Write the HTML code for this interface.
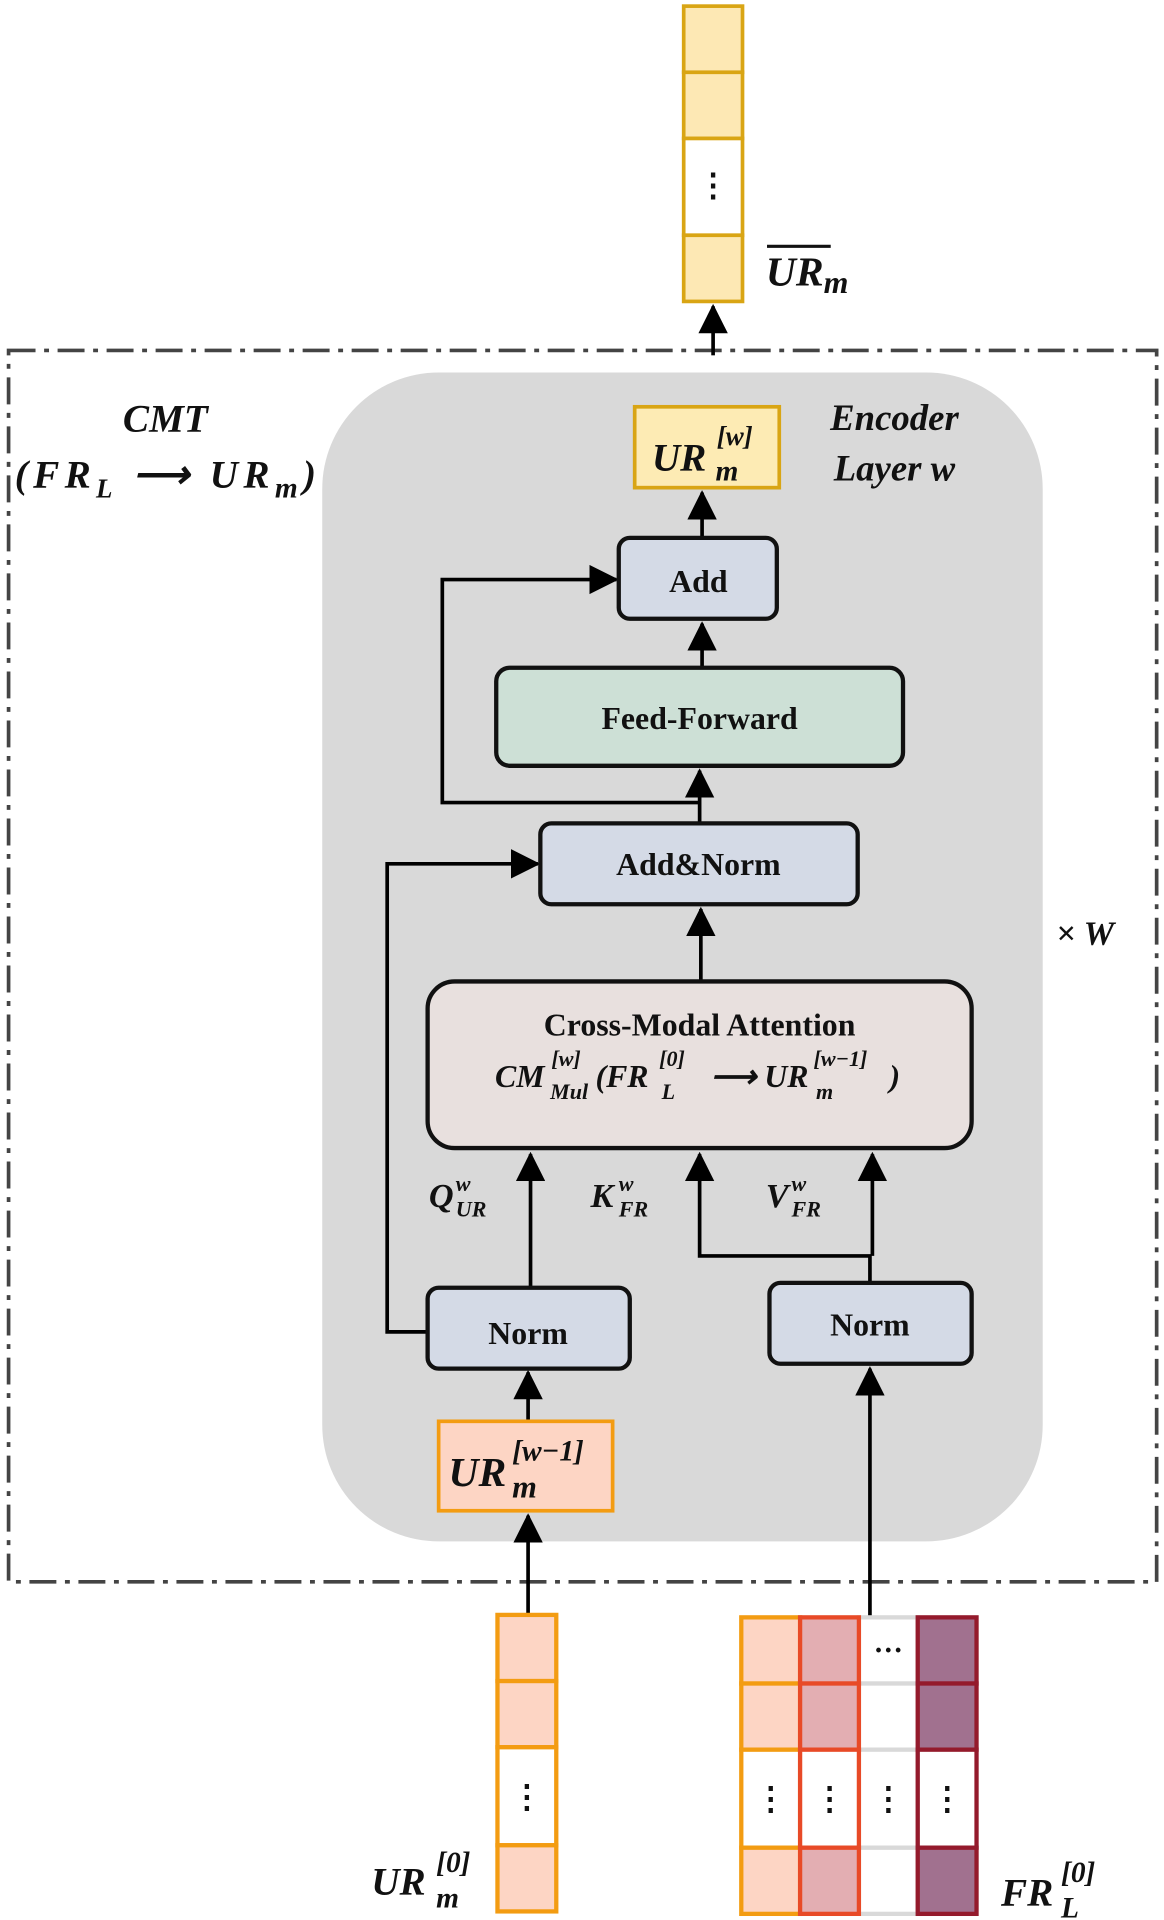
<!DOCTYPE html>
<html><head><meta charset="utf-8"><style>
html,body{margin:0;padding:0;background:#fff;}
svg{display:block;}
text{font-family:"Liberation Serif",serif;font-weight:bold;fill:#111;}
.i{font-style:italic;}
</style></head><body>
<svg width="1164" height="1920" viewBox="0 0 950 1567" xmlns="http://www.w3.org/2000/svg">
<defs><marker id="ah" markerWidth="24" markerHeight="24" refX="22" refY="12" orient="auto" markerUnits="userSpaceOnUse"><path d="M0,0 L24,12 L0,24 z" fill="#000"/></marker></defs>

<g stroke="#d9a514" stroke-width="3">
<rect x="558" y="5" width="48" height="54" fill="#fde8b4"/>
<rect x="558" y="59" width="48" height="54" fill="#fde8b4"/>
<rect x="558" y="113" width="48" height="79" fill="#fff"/>
<rect x="558" y="192" width="48" height="54" fill="#fde8b4"/>
</g>
<text x="582" y="160" font-size="26" text-anchor="middle">⋮</text>
<line x1="626" y1="201" x2="678" y2="201" stroke="#111" stroke-width="2.5"/>
<text x="625" y="233" font-size="34" class="i">UR<tspan font-size="26" dy="6">m</tspan></text>

<rect x="7" y="286" width="937" height="1005" fill="none" stroke="#444" stroke-width="3" stroke-dasharray="22 7 4 7"/>
<rect x="263" y="304" width="588" height="954" rx="95" fill="#d9d9d9"/>

<text x="135" y="352" font-size="32" class="i" text-anchor="middle">CMT</text>
<text x="12" y="398" font-size="32" class="i" textLength="246" lengthAdjust="spacing">(FR<tspan font-size="22" dy="8">L</tspan><tspan dy="-8"> ⟶ UR</tspan><tspan font-size="24" dy="8">m</tspan><tspan dy="-8">)</tspan></text>
<text x="730" y="351" font-size="30" class="i" text-anchor="middle">Encoder</text>
<text x="730" y="392" font-size="30" class="i" text-anchor="middle">Layer w</text>
<text x="862" y="771" font-size="28" class="i">× W</text>

<line x1="582" y1="290" x2="582" y2="250" stroke="#000" stroke-width="3" marker-end="url(#ah)"/>

<rect x="518" y="332" width="118" height="66" fill="#fdebb4" stroke="#d9a514" stroke-width="3"/>
<text x="532" y="384" font-size="32" class="i">UR</text>
<text x="585" y="363" font-size="22" class="i">[w]</text>
<text x="584" y="392" font-size="24" class="i">m</text>

<g stroke="#000" stroke-width="3" fill="none">
<line x1="573" y1="438" x2="573" y2="402" marker-end="url(#ah)"/>
<line x1="573" y1="545" x2="573" y2="509" marker-end="url(#ah)"/>
<line x1="571" y1="672" x2="571" y2="629" marker-end="url(#ah)"/>
<polyline points="571,655 361,655 361,473 503,473" marker-end="url(#ah)"/>
<line x1="572" y1="800" x2="572" y2="742" marker-end="url(#ah)"/>
<polyline points="349,1087 316,1087 316,705 439,705" marker-end="url(#ah)"/>
<line x1="433" y1="1051" x2="433" y2="942" marker-end="url(#ah)"/>
<polyline points="710,1047 710,1025 571,1025 571,942" marker-end="url(#ah)"/>
<line x1="712" y1="1025" x2="712" y2="942" marker-end="url(#ah)"/>
<line x1="431" y1="1160" x2="431" y2="1120" marker-end="url(#ah)"/>
<line x1="431" y1="1317" x2="431" y2="1237" marker-end="url(#ah)"/>
<line x1="710" y1="1320" x2="710" y2="1117" marker-end="url(#ah)"/>
</g>

<g stroke="#111" stroke-width="3.5">
<rect x="505" y="439" width="129" height="66" rx="9" fill="#d4dae6"/>
<rect x="405" y="545" width="332" height="80" rx="11" fill="#cde0d6"/>
<rect x="441" y="672" width="259" height="66" rx="9" fill="#d4dae6"/>
<rect x="349" y="801" width="444" height="136" rx="22" fill="#e8e0de"/>
<rect x="349" y="1051" width="165" height="66" rx="9" fill="#d4dae6"/>
<rect x="628" y="1047" width="165" height="66" rx="9" fill="#d4dae6"/>
</g>
<text x="570" y="483" font-size="26" text-anchor="middle">Add</text>
<text x="571" y="595" font-size="26" text-anchor="middle">Feed-Forward</text>
<text x="570" y="714" font-size="26" text-anchor="middle">Add&amp;Norm</text>
<text x="571" y="845" font-size="26" text-anchor="middle">Cross-Modal Attention</text>
<text x="404" y="887" font-size="26" class="i">CM</text>
<text x="450" y="870" font-size="18" class="i">[w]</text>
<text x="449" y="897" font-size="18" class="i">Mul</text>
<text x="486" y="887" font-size="26" class="i">(FR</text>
<text x="538" y="870" font-size="18" class="i">[0]</text>
<text x="540" y="897" font-size="18" class="i">L</text>
<text x="580" y="887" font-size="26" class="i">⟶ UR</text>
<text x="664" y="870" font-size="18" class="i">[w−1]</text>
<text x="666" y="897" font-size="18" class="i">m</text>
<text x="726" y="887" font-size="26" class="i">)</text>
<text x="431" y="1097" font-size="26" text-anchor="middle">Norm</text>
<text x="710" y="1090" font-size="26" text-anchor="middle">Norm</text>

<text x="350" y="985" font-size="28" class="i">Q</text><text x="372" y="972" font-size="18" class="i">w</text><text x="372" y="993" font-size="18" class="i">UR</text>
<text x="482" y="985" font-size="28" class="i">K</text><text x="505" y="972" font-size="18" class="i">w</text><text x="505" y="993" font-size="18" class="i">FR</text>
<text x="625" y="985" font-size="28" class="i">V</text><text x="646" y="972" font-size="18" class="i">w</text><text x="646" y="993" font-size="18" class="i">FR</text>

<rect x="358" y="1160" width="142" height="73" fill="#fdd5c4" stroke="#f39c12" stroke-width="3"/>
<text x="366" y="1213" font-size="34" class="i">UR</text>
<text x="418" y="1192" font-size="24" class="i">[w−1]</text>
<text x="418" y="1222" font-size="26" class="i">m</text>

<g stroke="#f39c12" stroke-width="3.5">
<rect x="406" y="1318" width="48" height="54" fill="#fdd5c4"/>
<rect x="406" y="1372" width="48" height="54" fill="#fdd5c4"/>
<rect x="406" y="1426" width="48" height="80" fill="#fff"/>
<rect x="406" y="1506" width="48" height="54" fill="#fdd5c4"/>
</g>
<text x="430" y="1475" font-size="26" text-anchor="middle">⋮</text>
<text x="303" y="1546" font-size="32" class="i">UR</text>
<text x="356" y="1528" font-size="24" class="i">[0]</text>
<text x="356" y="1557" font-size="24" class="i">m</text>

<g stroke-width="3.5">
<g stroke="#d9d9d9"><rect x="701" y="1320" width="48" height="54" fill="#fff"/><rect x="701" y="1374" width="48" height="54" fill="#fff"/><rect x="701" y="1428" width="48" height="80" fill="#fff"/><rect x="701" y="1508" width="48" height="54" fill="#fff"/></g>
<g stroke="#f39c12"><rect x="605" y="1320" width="48" height="54" fill="#fdd5c4"/><rect x="605" y="1374" width="48" height="54" fill="#fdd5c4"/><rect x="605" y="1428" width="48" height="80" fill="#fff"/><rect x="605" y="1508" width="48" height="54" fill="#fdd5c4"/></g>
<g stroke="#e84a27"><rect x="653" y="1320" width="48" height="54" fill="#e3aeb2"/><rect x="653" y="1374" width="48" height="54" fill="#e3aeb2"/><rect x="653" y="1428" width="48" height="80" fill="#fff"/><rect x="653" y="1508" width="48" height="54" fill="#e3aeb2"/></g>
<g stroke="#941a2c"><rect x="749" y="1320" width="48" height="54" fill="#a1718f"/><rect x="749" y="1374" width="48" height="54" fill="#a1718f"/><rect x="749" y="1428" width="48" height="80" fill="#fff"/><rect x="749" y="1508" width="48" height="54" fill="#a1718f"/></g>
</g>
<text x="725" y="1355" font-size="24" text-anchor="middle">···</text>
<text x="629" y="1477" font-size="26" text-anchor="middle">⋮</text>
<text x="677" y="1477" font-size="26" text-anchor="middle">⋮</text>
<text x="725" y="1477" font-size="26" text-anchor="middle">⋮</text>
<text x="773" y="1477" font-size="26" text-anchor="middle">⋮</text>
<text x="817" y="1555" font-size="32" class="i">FR</text>
<text x="866" y="1536" font-size="24" class="i">[0]</text>
<text x="866" y="1565" font-size="24" class="i">L</text>
</svg>
</body></html>
